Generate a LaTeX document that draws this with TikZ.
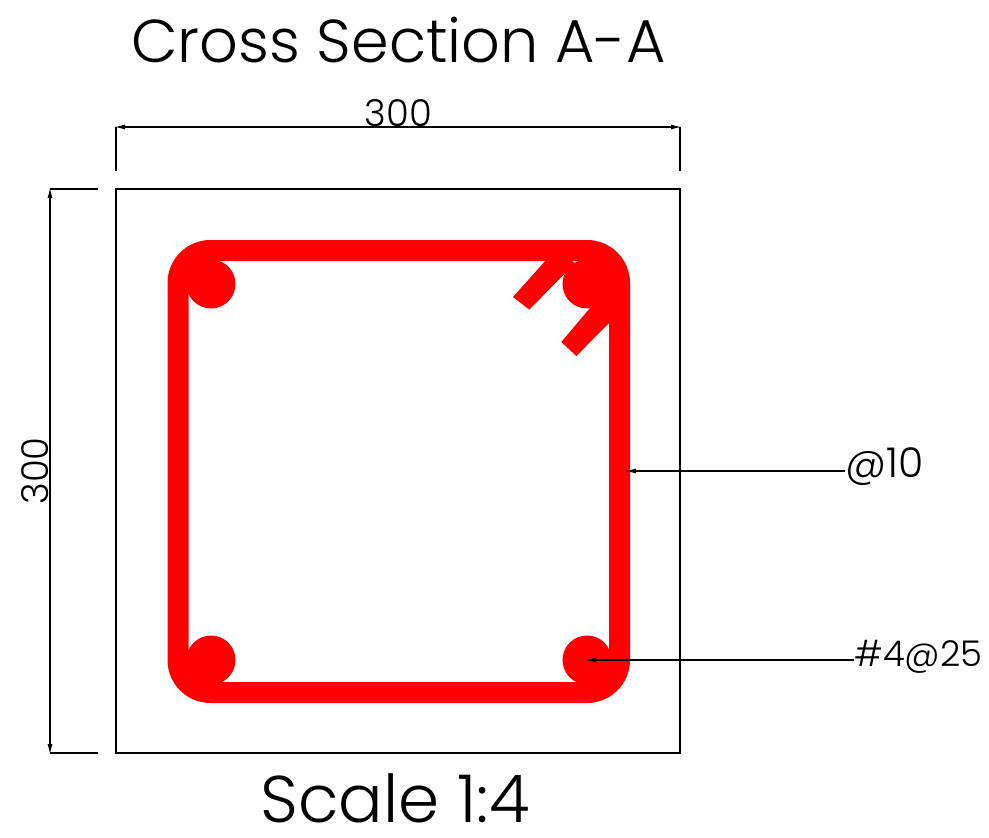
\documentclass[tikz,border=0pt]{standalone}
\usepackage{fontspec}
\setmainfont{Poppins Light}
\usetikzlibrary{arrows.meta}
\definecolor{rebar}{RGB}{255,0,0}
\tikzstyle{section} = [rectangle, draw=black, line width=2pt, minimum width=564pt, minimum height=564pt, inner sep=0pt]
\tikzstyle{bar} = [circle, fill=rebar, minimum size=49pt, inner sep=0pt]
\tikzstyle{stirrup} = [draw=rebar, line width=21pt, rounded corners=32.5pt]
\tikzstyle{hook} = [fill=rebar]
\tikzstyle{dimline} = [line width=1.4pt, shorten <=-2pt, shorten >=-2pt, {Latex[length=11pt,width=5pt]}-{Latex[length=11pt,width=5pt]}]
\tikzstyle{extline} = [line width=1.4pt]
\tikzstyle{arrow} = [line width=1.4pt, shorten >=-3pt, -{Latex[length=12pt,width=5pt]}]
\tikzstyle{heading} = [inner sep=0pt, font=\fontsize{60.5}{60}\selectfont]
\tikzstyle{dimtext} = [inner sep=0pt, font=\fontsize{37}{37}\selectfont]
\begin{document}
\begin{tikzpicture}[x=1pt,y=-1pt]
\useasboundingbox (0,0) rectangle (989,838);
\node (title) [heading] at (398.5,40) {Cross Section A-A};
\node (scale) [heading, font=\fontsize{66}{66}\selectfont] at (395,798) {Scale 1:4};
\node (concrete) [section] at (398,471) {};
% stirrup and hooks
\draw[stirrup] (178,250.5) rectangle (619.5,692.5);
\fill[hook] (513,297) -- (529.3,309.7) -- (575,263) -- (555,250) -- cycle;
\fill[hook] (561.3,342) -- (576.3,356) -- (625,307) -- (612,282) -- cycle;
\node (barTL) [bar] at (211,284) {};
\node (barTR) [bar] at (587,284) {};
\node (barBL) [bar] at (211,660) {};
\node (barBR) [bar] at (587,660) {};
% dimensions
\coordinate (topL) at (116,127);
\coordinate (topR) at (680,127);
\coordinate (leftT) at (50,189);
\coordinate (leftB) at (50,753);
\draw[extline] (topL) -- (116,171);
\draw[extline] (topR) -- (680,171);
\draw[extline] (leftT) -- (98,189);
\draw[extline] (leftB) -- (98,753);
\draw[dimline] (topL) -- (topR);
\draw[dimline] (leftT) -- (leftB);
\node (width) [dimtext] at (398.5,113) {300};
\node (height) [dimtext, rotate=90] at (35,471) {300};
% callouts
\node (tie) [dimtext, font=\fontsize{41}{41}\selectfont] at (884.5,467) {@10};
\node (main) [dimtext, font=\fontsize{35.5}{36}\selectfont] at (918.5,657) {\#4@25};
\coordinate (tieEnd) at (627,471);
\draw[arrow] (tie.west |- tieEnd) -- (tieEnd);
\draw[arrow] (main.west |- barBR) -- (barBR.center);
\end{tikzpicture}
\end{document}
